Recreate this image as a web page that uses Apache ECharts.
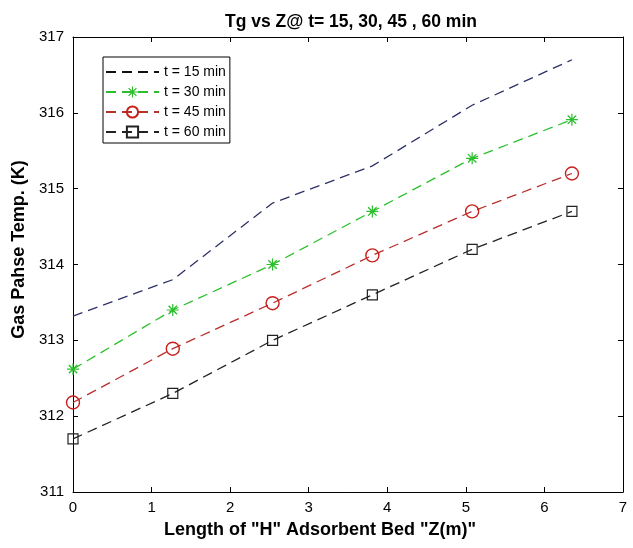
<!DOCTYPE html>
<html>
<head>
<meta charset="utf-8">
<script src="https://cdn.jsdelivr.net/npm/echarts@6/dist/echarts.min.js"></script>
<style>html,body{margin:0;padding:0;background:#fff;}#c{width:633px;height:548px;}</style>
</head>
<body>
<div id="c"></div>
<script>
var titleText = 'Tg vs Z@ t= 15, 30, 45 , 60 min';
var xName = 'Length of "H" Adsorbent Bed "Z(m)"';
var yName = 'Gas Pahse Temp. (K)';
var seriesNames = ['t = 15 min', 't = 30 min', 't = 45 min', 't = 60 min'];
var zPos = [0, 1.27, 2.54, 3.81, 5.08, 6.35];
var t15 = [313.32, 313.80, 314.81, 315.30, 316.10, 316.70];
var t30 = [312.62, 313.40, 314.00, 314.70, 315.40, 315.91];
var t45 = [312.18, 312.89, 313.49, 314.12, 314.70, 315.20];
var t60 = [311.70, 312.30, 313.00, 313.60, 314.20, 314.70];
var xTicks = [0, 1, 2, 3, 4, 5, 6, 7];
var yTicks = [311, 312, 313, 314, 315, 316, 317];

function pairs(xs, ys) { return xs.map(function (x, i) { return [x, ys[i]]; }); }
var FONT = '"Liberation Sans", Arial, sans-serif';
var asterisk = 'path://M0,4.5L10,4.5L10,5.5L0,5.5Z M4.5,0L5.5,0L5.5,10L4.5,10Z M1.1,1.9L1.9,1.1L8.9,8.1L8.1,8.9Z M8.1,1.1L8.9,1.9L1.9,8.9L1.1,8.1Z';
var dash = [10, 6];

var chart = echarts.init(document.getElementById('c'), null, {renderer: 'canvas'});
var axisCommon = {
  axisLine: {show: true, onZero: false, lineStyle: {color: '#000', width: 1}},
  axisTick: {show: true, inside: true, length: 5, lineStyle: {color: '#000'}},
  splitLine: {show: false}
};
chart.setOption({
  animation: false,
  backgroundColor: '#fff',
  title: {
    text: titleText, left: 346, top: 8, textAlign: 'center',
    textStyle: {fontFamily: FONT, fontSize: 17.5, fontWeight: 'bold', color: '#000'}
  },
  legend: {
    orient: 'vertical', left: 103, top: 57,
    itemWidth: 53, itemHeight: 14, itemGap: 6,
    padding: [8, 4, 4, 2],
    borderColor: '#000', borderWidth: 1,
    textStyle: {fontFamily: FONT, fontSize: 14, color: '#000'},
    data: [
      {name: seriesNames[0], itemStyle: {color: 'rgba(0,0,0,0)', borderColor: 'rgba(0,0,0,0)', borderWidth: 0}, lineStyle: {color: '#111'}},
      {name: seriesNames[1]},
      {name: seriesNames[2]},
      {name: seriesNames[3]}
    ]
  },
  grid: {left: 73, right: 10, top: 37, bottom: 56},
  xAxis: [
    Object.assign({
      type: 'value', position: 'bottom', min: xTicks[0], max: xTicks[xTicks.length - 1], interval: 1,
      name: xName, nameLocation: 'middle', nameGap: 29,
      nameTextStyle: {fontFamily: FONT, fontSize: 18, fontWeight: 'bold', color: '#000', padding: [0, 56, 0, 0]},
      axisLabel: {fontFamily: FONT, fontSize: 15, color: '#000', margin: 8}
    }, axisCommon),
    Object.assign({
      type: 'value', position: 'top', min: xTicks[0], max: xTicks[xTicks.length - 1], interval: 1,
      axisLabel: {show: false}
    }, axisCommon)
  ],
  yAxis: [
    Object.assign({
      type: 'value', position: 'left', min: yTicks[0], max: yTicks[yTicks.length - 1], interval: 1,
      name: yName, nameLocation: 'middle', nameGap: 38,
      nameTextStyle: {fontFamily: FONT, fontSize: 18, fontWeight: 'bold', color: '#000', padding: [0, 0, 0, 30]},
      axisLabel: {fontFamily: FONT, fontSize: 15, color: '#000', margin: 9}
    }, axisCommon),
    Object.assign({
      type: 'value', position: 'right', min: yTicks[0], max: yTicks[yTicks.length - 1], interval: 1,
      axisLabel: {show: false}
    }, axisCommon)
  ],
  series: [
    {
      name: seriesNames[0], type: 'line', data: pairs(zPos, t15),
      symbol: 'none', lineStyle: {color: '#2e3166', width: 1.3, type: dash},
      itemStyle: {color: '#2e3166'}
    },
    {
      name: seriesNames[1], type: 'line', data: pairs(zPos, t30),
      symbol: asterisk, symbolSize: 12, showAllSymbol: true,
      lineStyle: {color: '#2cbf2c', width: 1.3, type: dash},
      itemStyle: {color: '#2cbf2c', borderWidth: 0}
    },
    {
      name: seriesNames[2], type: 'line', data: pairs(zPos, t45),
      symbol: 'circle', symbolSize: 13, showAllSymbol: true,
      lineStyle: {color: '#b8302c', width: 1.3, type: dash},
      itemStyle: {color: 'rgba(0,0,0,0)', borderColor: '#c8201c', borderWidth: 1.4}
    },
    {
      name: seriesNames[3], type: 'line', data: pairs(zPos, t60),
      symbol: 'rect', symbolSize: 10, showAllSymbol: true,
      lineStyle: {color: '#222', width: 1.3, type: dash},
      itemStyle: {color: 'rgba(0,0,0,0)', borderColor: '#222', borderWidth: 1.2}
    }
  ]
});
</script>
</body>
</html>
